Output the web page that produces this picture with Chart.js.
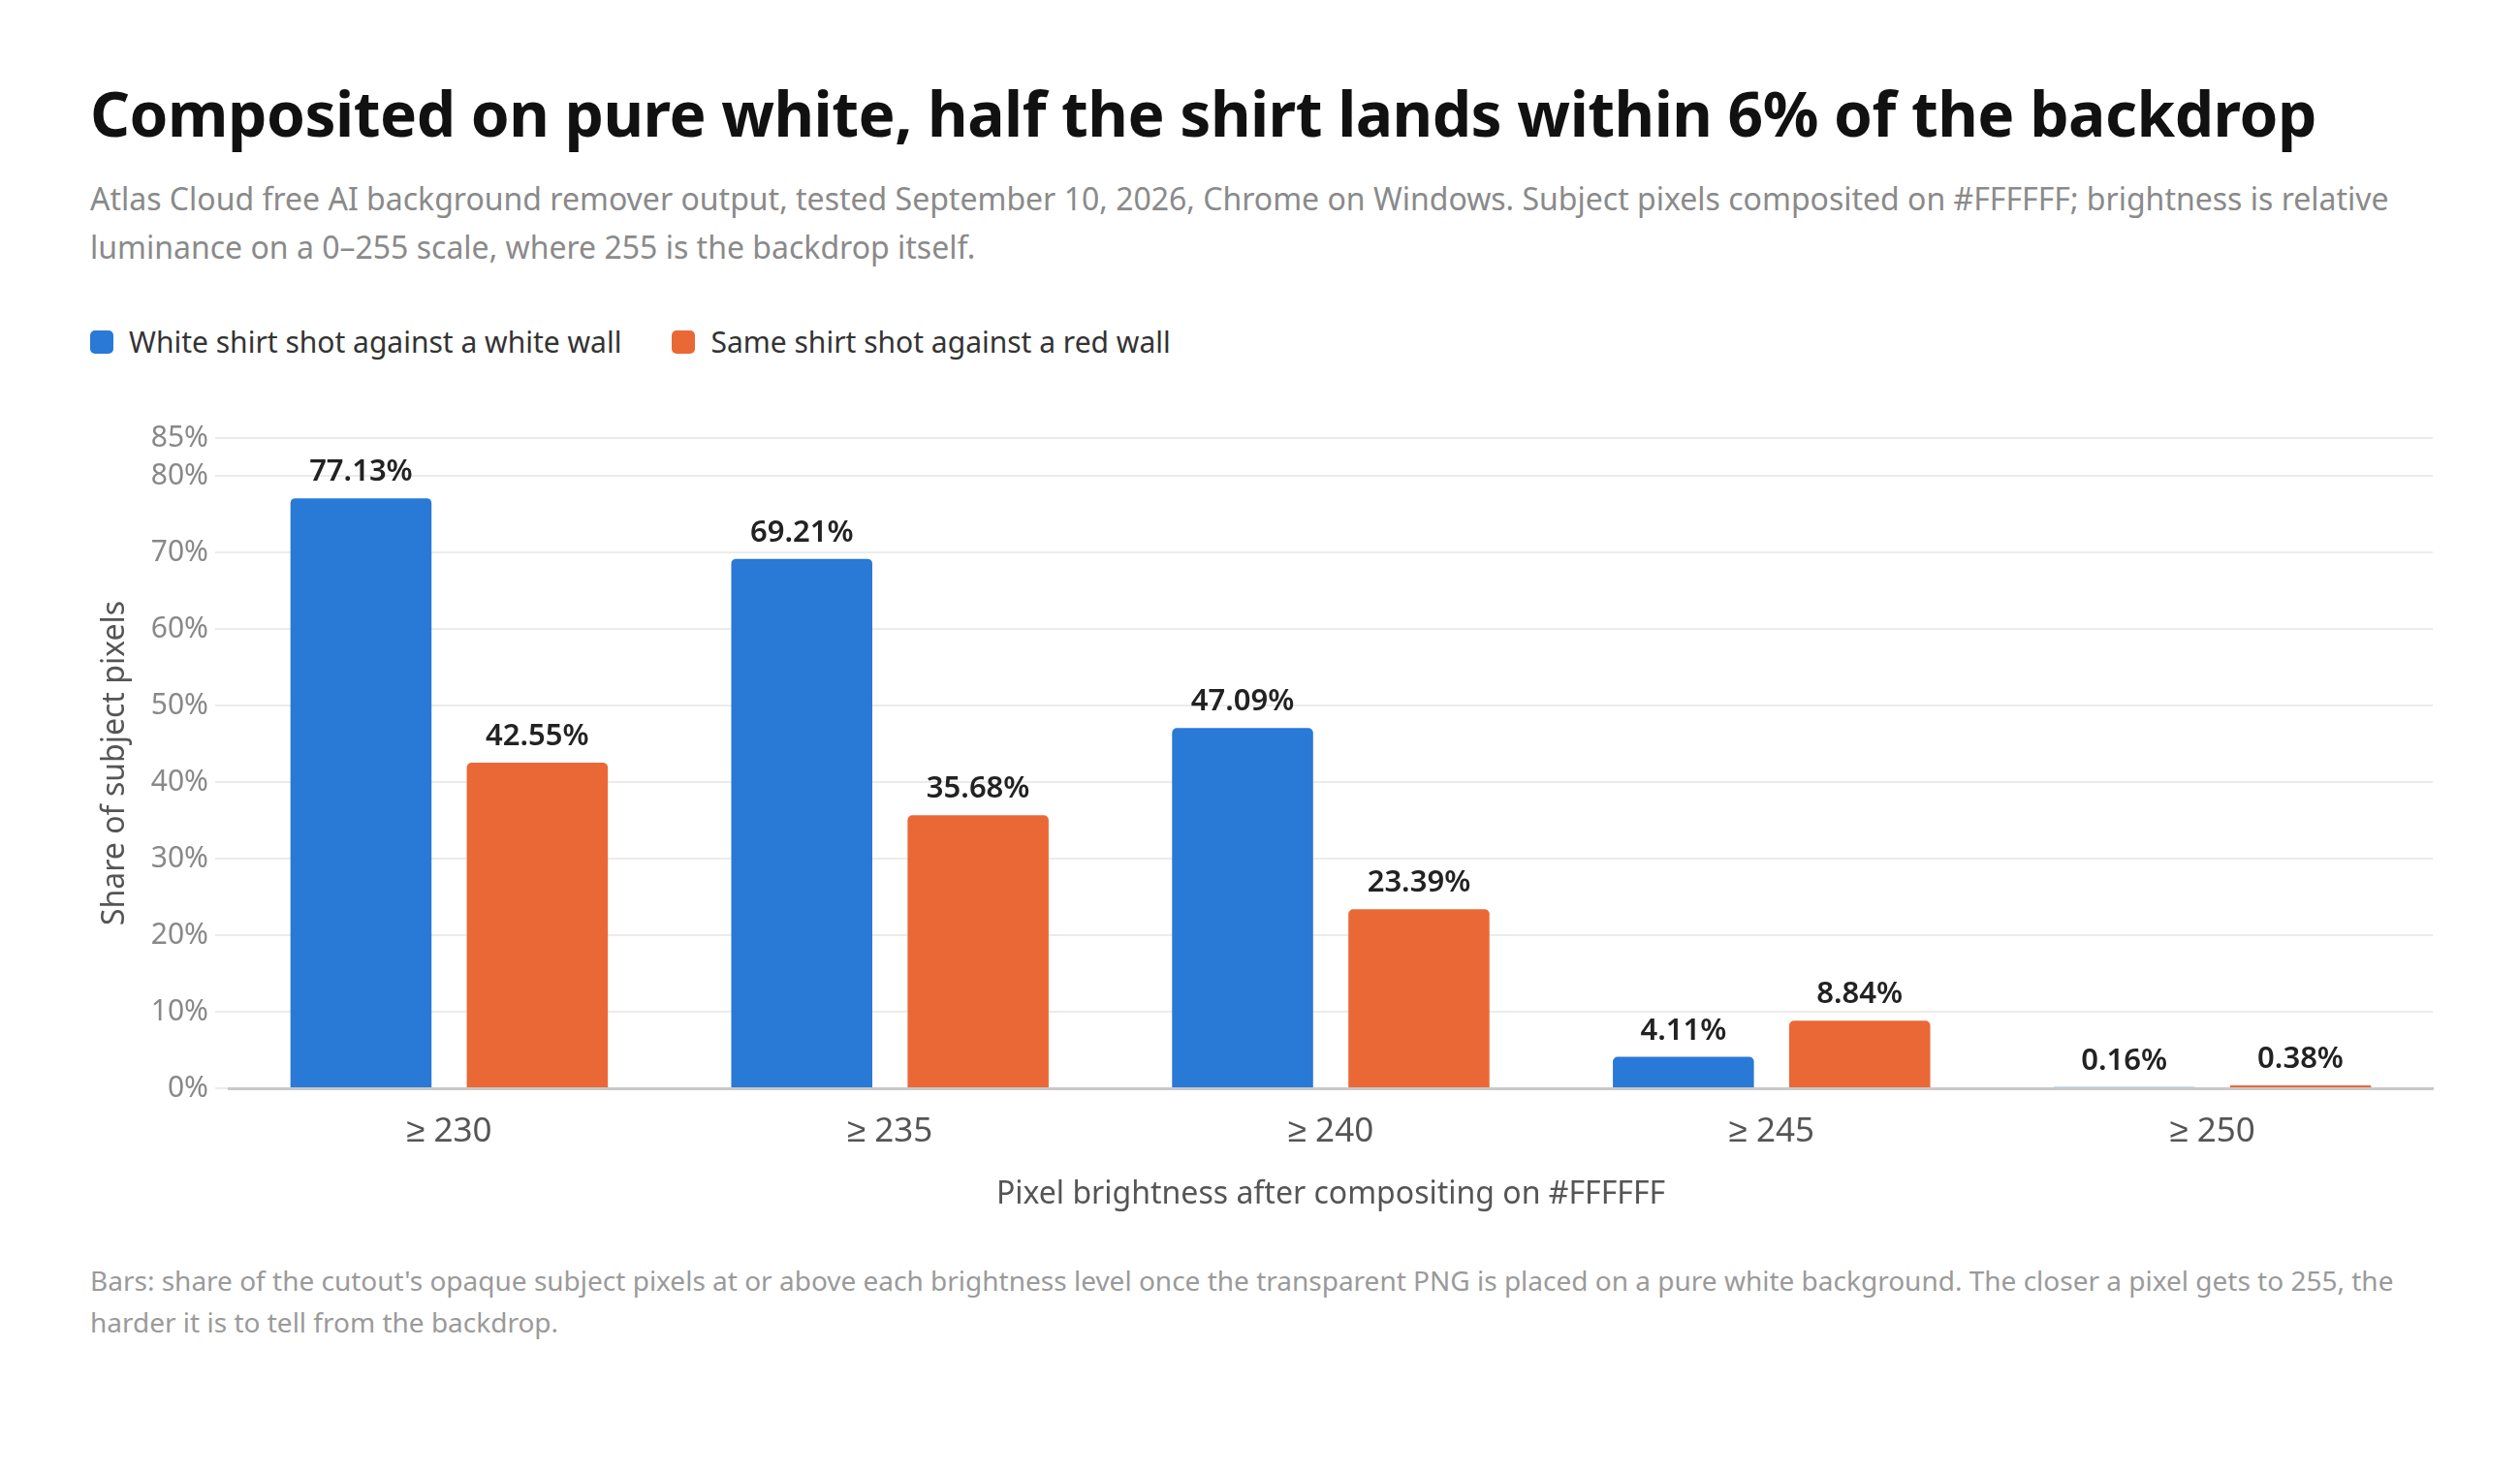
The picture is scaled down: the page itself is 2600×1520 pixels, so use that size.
<!DOCTYPE html>
<html>
<head>
<meta charset="utf-8">
<script src="https://cdn.jsdelivr.net/npm/chart.js@4"></script>
<style>
  html, body { margin: 0; padding: 0; background: #fff; }
  body { width: 2600px; height: 1520px; position: relative; font-family: 'Segoe UI', 'Noto Sans', sans-serif; }
  h1 { position: absolute; left: 93px; top: 73px; margin: 0; font-size: 64px; font-weight: 700; color: #111; white-space: nowrap; letter-spacing: -0.5px; }
  .sub { position: absolute; left: 93px; top: 180px; margin: 0; font-size: 32px; line-height: 50px; color: #8a8a8a; white-space: nowrap; }
  .legend { position: absolute; left: 93px; top: 333px; display: flex; font-size: 30px; color: #333; line-height: 40px; }
  .legend span.item { display: flex; align-items: center; margin-right: 52px; }
  .legend i { display: inline-block; width: 24px; height: 24px; border-radius: 5px; margin-right: 16px; }
  #wrap { position: absolute; left: 0; top: 412px; width: 2600px; height: 844px; }
  .foot { position: absolute; left: 93px; top: 1300px; margin: 0; font-size: 28px; line-height: 43px; color: #9a9a9a; white-space: nowrap; }
</style>
</head>
<body>
<h1>Composited on pure white, half the shirt lands within 6% of the backdrop</h1>
<p class="sub">Atlas Cloud free AI background remover output, tested September 10, 2026, Chrome on Windows. Subject pixels composited on #FFFFFF; brightness is relative<br>luminance on a 0–255 scale, where 255 is the backdrop itself.</p>
<div class="legend" id="legend"></div>
<div id="wrap"><canvas id="chart"></canvas></div>
<p class="foot">Bars: share of the cutout's opaque subject pixels at or above each brightness level once the transparent PNG is placed on a pure white background. The closer a pixel gets to 255, the<br>harder it is to tell from the backdrop.</p>

<script>
const FONT = "'Segoe UI', 'Noto Sans', sans-serif";

// Data
const categories = ['≥ 230', '≥ 235', '≥ 240', '≥ 245', '≥ 250'];
const whiteWall = [77.13, 69.21, 47.09, 4.11, 0.16];
const redWall = [42.55, 35.68, 23.39, 8.84, 0.38];
const seriesNames = ['White shirt shot against a white wall', 'Same shirt shot against a red wall'];
const seriesColors = ['#2979d6', '#ea6836'];
const yTicks = [0, 10, 20, 30, 40, 50, 60, 70, 80, 85];

// HTML legend
const legendEl = document.getElementById('legend');
seriesNames.forEach((name, i) => {
    const item = document.createElement('span');
    item.className = 'item';
    item.innerHTML = `<i style="background:${seriesColors[i]}"></i>${name}`;
    legendEl.appendChild(item);
});

// Value labels above each bar
const barLabels = {
    id: 'barLabels',
    afterDatasetsDraw(chart) {
        const ctx = chart.ctx;
        ctx.save();
        ctx.font = `600 31px ${FONT}`;
        ctx.fillStyle = '#222';
        ctx.textAlign = 'center';
        ctx.textBaseline = 'alphabetic';
        chart.data.datasets.forEach((ds, i) => {
            chart.getDatasetMeta(i).data.forEach((bar, j) => {
                ctx.fillText(ds.data[j].toFixed(2) + '%', bar.x, bar.y - 18);
            });
        });
        ctx.restore();
    }
};

new Chart(document.getElementById('chart'), {
    type: 'bar',
    data: {
        labels: categories,
        datasets: [
            { label: seriesNames[0], data: whiteWall, backgroundColor: seriesColors[0], borderRadius: 5 },
            { label: seriesNames[1], data: redWall, backgroundColor: seriesColors[1], borderRadius: 5 }
        ]
    },
    options: {
        responsive: true,
        maintainAspectRatio: false,
        animation: false,
        layout: { padding: { left: 96, right: 90, top: 40, bottom: 0 } },
        datasets: { bar: { barPercentage: 0.8, categoryPercentage: 0.8 } },
        plugins: {
            legend: { display: false },
            tooltip: { enabled: false }
        },
        scales: {
            x: {
                grid: { display: false, drawTicks: false },
                border: { color: '#c8c8c8', width: 3 },
                ticks: { color: '#555', font: { family: FONT, size: 35 }, padding: 24 },
                title: { display: true, text: 'Pixel brightness after compositing on #FFFFFF', color: '#555', font: { family: FONT, size: 32 }, padding: { top: 4, bottom: 4 } },
                afterFit: scale => { scale.height = 133; }
            },
            y: {
                min: 0,
                max: 85,
                grid: { color: '#ebebeb', lineWidth: 2, tickLength: 14, tickColor: '#ebebeb' },
                border: { display: false },
                afterBuildTicks: scale => { scale.ticks = yTicks.map(v => ({ value: v })); },
                ticks: { color: '#888', font: { family: FONT, size: 30 }, padding: 7, callback: v => v + '%' },
                title: { display: true, text: 'Share of subject pixels', color: '#555', font: { family: FONT, size: 32 }, padding: { top: 4, bottom: 4 } },
                afterFit: scale => { scale.width = 140; }
            }
        }
    },
    plugins: [barLabels]
});
</script>
</body>
</html>
